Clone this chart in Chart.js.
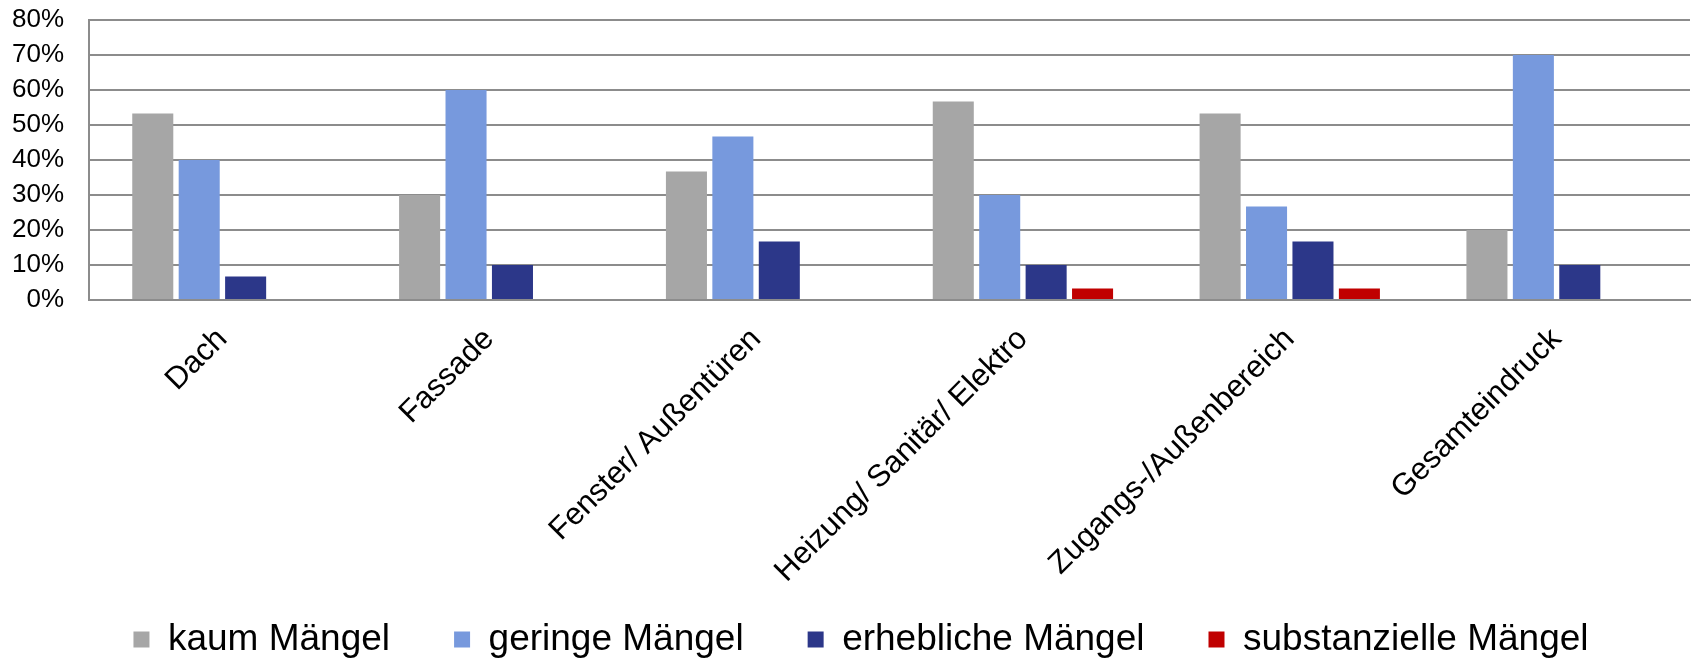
<!DOCTYPE html>
<html lang="de">
<head>
<meta charset="utf-8">
<title>Mängel</title>
<script src="https://cdn.jsdelivr.net/npm/chart.js@4/dist/chart.umd.min.js"></script>
<style>
    body { margin: 0; background: #fff; }
    #wrap { width: 1692px; height: 662px; }
</style>
</head>
<body>
<div id="wrap"><canvas id="maengelChart"></canvas></div>
<script>
// DATA
const categories = ['Dach', 'Fassade', 'Fenster/ Außentüren', 'Heizung/ Sanitär/ Elektro', 'Zugangs-/Außenbereich', 'Gesamteindruck'];
const kaumMaengel = [53.3, 30, 36.7, 56.7, 53.3, 20];
const geringeMaengel = [40, 60, 46.7, 30, 26.7, 70];
const erheblicheMaengel = [6.7, 10, 16.7, 10, 16.7, 10];
const substanzielleMaengel = [0, 0, 0, 3.3, 3.3, 0];
const yTicks = [0, 10, 20, 30, 40, 50, 60, 70, 80];

const fontFamily = '"Liberation Sans", Arial, sans-serif';
const gridColor = '#8c8c8c';

function makeDataset(label, data, color) {
    return {
        label: label,
        data: data,
        backgroundColor: color,
        borderWidth: 0,
        categoryPercentage: 0.696,
        barPercentage: 0.884
    };
}

// labels overflow their axis boxes (rotated x labels into the legend row,
// y labels into the left padding), so widen the clip areas after layout
const unclipLabels = {
    id: 'unclipLabels',
    afterLayout: function(chart) {
        chart.scales.x.bottom = chart.height;
        chart.scales.y.left = 0;
    }
};

const ctx = document.getElementById('maengelChart').getContext('2d');

window.maengelChartInstance = new Chart(ctx, {
    type: 'bar',
    data: {
        labels: categories,
        datasets: [
            makeDataset('kaum Mängel', kaumMaengel, '#a6a6a6'),
            makeDataset('geringe Mängel', geringeMaengel, '#7799dd'),
            makeDataset('erhebliche Mängel', erheblicheMaengel, '#2c3789'),
            makeDataset('substanzielle Mängel', substanzielleMaengel, '#c00000')
        ]
    },
    plugins: [unclipLabels],
    options: {
        responsive: true,
        maintainAspectRatio: false,
        animation: false,
        layout: {
            autoPadding: false,
            padding: { top: 20, right: 2, left: 32, bottom: -6 }
        },
        plugins: {
            tooltip: { enabled: false },
            legend: {
                position: 'bottom',
                labels: {
                    color: '#000',
                    font: { family: fontFamily, size: 37 },
                    boxWidth: 16,
                    boxHeight: 16,
                    padding: 64
                }
            }
        },
        scales: {
            x: {
                grid: { display: false },
                border: { display: true, color: gridColor, width: 2 },
                ticks: {
                    color: '#000',
                    font: { family: fontFamily, size: 31 },
                    minRotation: 45,
                    maxRotation: 45,
                    autoSkip: false,
                    padding: 13
                },
                afterFit: function(scale) {
                    scale.height = 257;
                }
            },
            y: {
                min: 0,
                max: 80,
                afterBuildTicks: function(scale) {
                    scale.ticks = yTicks.map(v => ({ value: v }));
                },
                grid: {
                    color: gridColor,
                    lineWidth: 2,
                    drawTicks: false
                },
                border: { display: true, color: gridColor, width: 2 },
                ticks: {
                    color: '#000',
                    font: { family: fontFamily, size: 26 },
                    padding: 25,
                    autoSkip: false,
                    callback: function(value) {
                        return value + '%';
                    }
                },
                afterFit: function(scale) {
                    scale.width = 57;
                    scale.paddingTop = 0;
                    scale.paddingBottom = 0;
                }
            }
        }
    }
});
</script>
</body>
</html>
